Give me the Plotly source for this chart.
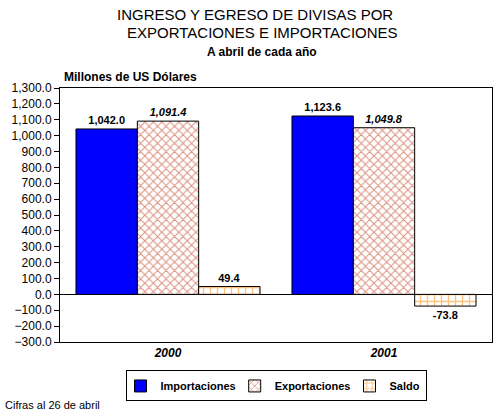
import plotly.graph_objects as go

years = ["2000", "2001"]
importaciones = [1042.0, 1123.6]
exportaciones = [1091.4, 1049.8]
saldo = [49.4, -73.8]
tick_vals = list(range(-300, 1301, 100))

FONT = "Liberation Sans, Arial, sans-serif"

fig = go.Figure()
fig.add_trace(go.Bar(
    name="Importaciones", x=years, y=importaciones,
    marker=dict(color="#0000FF", line=dict(color="black", width=1)),
    texttemplate="<b>%{y:,.1f}</b>", textposition="outside",
    textfont=dict(family=FONT, size=11, color="black"), cliponaxis=False,
))
fig.add_trace(go.Bar(
    name="Exportaciones", x=years, y=exportaciones,
    marker=dict(color="white", line=dict(color="black", width=1),
                pattern=dict(shape="x", fgcolor="#B82000", bgcolor="white", size=6, solidity=0.3)),
    texttemplate="<b><i>%{y:,.1f}</i></b>", textposition="outside",
    textfont=dict(family=FONT, size=11, color="black"), cliponaxis=False,
))
fig.add_trace(go.Bar(
    name="Saldo", x=years, y=saldo,
    marker=dict(color="white", line=dict(color="black", width=1),
                pattern=dict(shape="+", fgcolor="#FF8800", bgcolor="white", size=7, solidity=0.35)),
    texttemplate="<b>%{y:,.1f}</b>", textposition="outside",
    textfont=dict(family=FONT, size=11, color="black"), cliponaxis=False,
))

fig.update_layout(
    width=496, height=412,
    margin=dict(l=60, r=4, t=88, b=70, autoexpand=False),
    paper_bgcolor="white", plot_bgcolor="white",
    barmode="group", bargap=0.148, bargroupgap=0,
    font=dict(family=FONT, size=12, color="black"),
    showlegend=True,
    legend=dict(orientation="h", x=0.5, xanchor="center", y=-0.112, yanchor="top",
                bordercolor="black", borderwidth=1, bgcolor="white",
                font=dict(family=FONT, size=11, color="black", weight="bold"),
                itemwidth=30, tracegroupgap=0, traceorder="normal",
                indentation=-6),
    xaxis=dict(showline=True, linecolor="black", linewidth=1, mirror=True,
               ticks="", showgrid=False, automargin=False,
               tickfont=dict(family=FONT, size=12, color="black", weight="bold", style="italic")),
    yaxis=dict(range=[-300, 1300], tickvals=tick_vals, tickformat=",.1f",
               showline=True, linecolor="black", linewidth=1, mirror=True,
               ticks="outside", ticklen=5, tickcolor="black", showgrid=False, automargin=False,
               zeroline=True, zerolinecolor="black", zerolinewidth=1,
               tickfont=dict(family=FONT, size=12, color="black")),
    annotations=[
        dict(text="INGRESO Y EGRESO DE DIVISAS POR", xref="paper", yref="paper",
             x=(255 - 60) / 432, y=(342 - 14) / 254, xanchor="center", yanchor="middle", showarrow=False,
             font=dict(family=FONT, size=15, color="black")),
        dict(text="EXPORTACIONES E IMPORTACIONES", xref="paper", yref="paper",
             x=(262 - 60) / 432, y=(342 - 33) / 254, xanchor="center", yanchor="middle", showarrow=False,
             font=dict(family=FONT, size=15, color="black")),
        dict(text="<b>A abril de cada año</b>", xref="paper", yref="paper",
             x=(262 - 60) / 432, y=(342 - 52) / 254, xanchor="center", yanchor="middle", showarrow=False,
             font=dict(family=FONT, size=12, color="black")),
        dict(text="<b>Millones de US Dólares</b>", xref="paper", yref="paper",
             x=(62 - 60) / 432, y=(342 - 77) / 254, xanchor="left", yanchor="middle", showarrow=False,
             font=dict(family=FONT, size=12, color="black")),
        dict(text="Cifras al 26 de abril", xref="paper", yref="paper",
             x=(3 - 60) / 432, y=(342 - 405) / 254, xanchor="left", yanchor="middle", showarrow=False,
             font=dict(family=FONT, size=11, color="black")),
    ],
)

fig.write_html("out.html", config={"displayModeBar": False},
               post_script="document.body.style.margin='0';")
